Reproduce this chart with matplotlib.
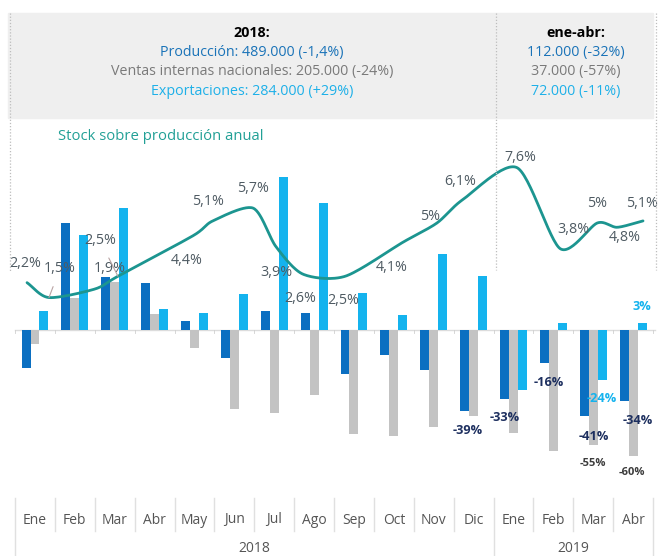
import numpy as np
import matplotlib
matplotlib.use("Agg")
import matplotlib.pyplot as plt
from matplotlib.patches import Rectangle
from matplotlib.lines import Line2D

plt.rcParams['font.family'] = ['Open Sans', 'DejaVu Sans']

# --- datos ---
meses = ["Ene", "Feb", "Mar", "Abr", "May", "Jun", "Jul", "Ago", "Sep", "Oct", "Nov", "Dic",
         "Ene", "Feb", "Mar", "Abr"]
anios = ["2018", "2019"]
produccion = [-18.5, 50.5, 25, 22.3, 4, -13.4, 8.8, 7.7, -21.3, -12, -19.3, -39, -33, -16, -41, -34]
ventas = [-7, 14.8, 22.4, 7.4, -8.7, -38, -39.6, -31, -49.8, -50.7, -46.4, -41, -49.4, -57.7, -55, -60]
exportaciones = [8.8, 45, 58, 9.8, 8, 17, 72.5, 60.4, 17.2, 6.9, 35.8, 25.6, -28.8, 3.2, -24, 3]

# stock sobre produccion anual (posicion en meses, valor %)
stock_pos = [-0.2, 0.35, 1.5, 2.08, 3.96, 4.46, 5.47, 6.04, 6.72, 7.78, 9.23, 10.08, 10.73,
             12.09, 13.17, 14.1, 14.6, 15.25]
stock = [2.2, 1.5, 1.9, 2.5, 4.4, 5.1, 5.7, 3.9, 2.6, 2.5, 4.1, 5, 6.1, 7.6, 3.8, 5, 4.8, 5.1]

titulo_2018 = ["2018:", "Producción: 489.000 (-1,4%)",
               "Ventas internas nacionales: 205.000 (-24%)", "Exportaciones: 284.000 (+29%)"]
titulo_2019 = ["ene-abr:", "112.000 (-32%)", "37.000 (-57%)", "72.000 (-11%)"]

# colores
c_prod = "#0b6fc1"
c_vent = "#c3c3c3"
c_exp = "#14b3ee"
c_navy = "#1d2f5f"
c_teal = "#1c9590"
c_txt = "#4f5b63"

W, H = 658, 556
fig = plt.figure(figsize=(W / 100, H / 100), dpi=100)
ax = fig.add_axes([0, 0, 1, 1])
ax.axis("off")

# pixel mapping: x = 35 + 39.87*u ; y = 329.5 - 2.1*v
step = 39.87
ax.set_xlim((0 - 35) / step, (W - 35) / step)
ylim = ((329.5 - H) / 2.1, 329.5 / 2.1)
ax.set_ylim(*ylim)


def fx(x):
    return x / W


def fy(y):
    return 1 - y / H


# caja superior
fig.add_artist(Rectangle((fx(8), fy(118)), fx(653) - fx(8), fy(13) - fy(118),
                         transform=fig.transFigure, color="#efefef", zorder=0))
for xd, y2 in [(10, 272), (496, 270), (655.5, 270)]:
    fig.add_artist(Line2D([fx(xd), fx(xd)], [fy(13), fy(y2)], transform=fig.transFigure,
                          color="#bdbdbd", lw=0.9, ls=(0, (1, 1.5))))

cols = ["black", "#1a73b8", "#7a7a7a", "#1eb0e8"]
for i, (t1, t2) in enumerate(zip(titulo_2018, titulo_2019)):
    w = "bold" if i == 0 else "normal"
    y = 33 + i * 19.5
    fig.text(fx(252), fy(y), t1, color=cols[i], fontsize=10.3, fontweight=w,
             ha="center", va="center")
    fig.text(fx(576), fy(y), t2, color=cols[i], fontsize=10.3, fontweight=w,
             ha="center", va="center")

fig.text(fx(58), fy(136), "Stock sobre producción anual", color="#22a096", fontsize=10.7,
         ha="left", va="center")

# barras
x = np.arange(len(meses))
bw = 0.225
ax.bar(x - bw, produccion, bw, color=c_prod, zorder=2)
ax.bar(x, ventas, bw, color=c_vent, zorder=2)
ax.bar(x + bw, exportaciones, bw, color=c_exp, zorder=2)
ax.axhline(0, xmin=fx(15), xmax=fx(655), color="#dcdcdc", lw=1, zorder=1)
for i in range(len(meses) + 1):
    ax.plot([i - 0.5, i - 0.5], [0, -1.5], color="#d0d0d0", lw=0.6, zorder=1)

# etiquetas de barras: (serie, indice, dx px, dy px, color, size)
series = {"p": produccion, "v": ventas, "e": exportaciones}
offs = {"p": -bw, "v": 0, "e": bw}
etiquetas = [("p", 11, 3, -19, c_navy, 9.2), ("p", 12, 0, -19, c_navy, 9.2),
             ("p", 13, 4, -19, c_navy, 9.2), ("p", 14, 10, -21, c_navy, 9.2),
             ("p", 15, 14, -20, c_navy, 9.2), ("v", 14, 0, -18, "#3d3d3d", 8),
             ("v", 15, -1, -17, "#3d3d3d", 8), ("e", 14, 0, -19, c_exp, 9.2),
             ("e", 15, 0, 17, c_exp, 9.2)]
for s, i, dx, dy, col, fs in etiquetas:
    v = series[s][i]
    ax.annotate(f"{v:g}%", (i + offs[s], v), xytext=(dx, dy), textcoords="offset pixels",
                ha="center", va="center", color=col, fontsize=fs, fontweight="bold", zorder=5)

# linea de stock
ax2 = ax.twinx()
ax2.axis("off")
ax2.set_ylim(ylim[0] / 10.14, ylim[1] / 10.14)


def cardinal(px, py, n=30, k=0.8):
    P = np.column_stack([px, py])
    P = np.vstack([2 * P[0] - P[1], P, 2 * P[-1] - P[-2]])
    out = []
    t = np.linspace(0, 1, n)[:, None]
    h00 = 2 * t ** 3 - 3 * t ** 2 + 1
    h10 = t ** 3 - 2 * t ** 2 + t
    h01 = -2 * t ** 3 + 3 * t ** 2
    h11 = t ** 3 - t ** 2
    for j in range(1, len(P) - 2):
        p0, p1, p2, p3 = P[j - 1], P[j], P[j + 1], P[j + 2]
        m1 = k * (p2 - p0) / 2
        m2 = k * (p3 - p1) / 2
        out.append(h00 * p1 + h10 * m1 + h01 * p2 + h11 * m2)
    out = np.vstack(out)
    return out[:, 0], out[:, 1]


sx, sy = cardinal(stock_pos, stock)
ax2.plot(sx, sy, color=c_teal, lw=2.0, zorder=4, solid_capstyle="round")

lab_off = [(-2, 19), (11, 29), (15, 21), (-18, 36), (-6, -25), (-5, 19), (0, 20), (1, -26),
           (-3, -24), (-2, -24), (-11, -25), (-7, 7), (-3, 18), (3, 10), (13, 19), (0, 20),
           (8, -10), (-1, 17)]
for j, (px_, v) in enumerate(zip(stock_pos, stock)):
    txt = f"{v:g}%".replace(".", ",")
    dx, dy = lab_off[j]
    arrow = None
    if j in (1, 3):
        arrow = dict(arrowstyle="-", color="#b9a3a3", lw=0.8, shrinkA=6, shrinkB=0)
    ax2.annotate(txt, (px_, v), xytext=(dx, dy), textcoords="offset pixels",
                 ha="center", va="center", color=c_txt, fontsize=10.3, zorder=5,
                 arrowprops=arrow)

# eje x con meses y anios
tr = ax.get_xaxis_transform()
for i, m in enumerate(meses):
    ax.text(i, fy(520), m, transform=tr, ha="center", va="center", color="#555555",
            fontsize=10)
for i in range(len(meses) + 1):
    b = i - 0.5
    bottom = fy(556) if i in (0, 12, 16) else fy(531)
    ax.plot([b, b], [fy(498), bottom], transform=tr, color="#e0e0e0", lw=1, clip_on=False)
ax.text(5.5, fy(549), anios[0], transform=tr, ha="center", va="center", color="#555555",
        fontsize=10)
ax.text(13.5, fy(549), anios[1], transform=tr, ha="center", va="center", color="#555555",
        fontsize=10)

fig.savefig("out.png", dpi=100)
